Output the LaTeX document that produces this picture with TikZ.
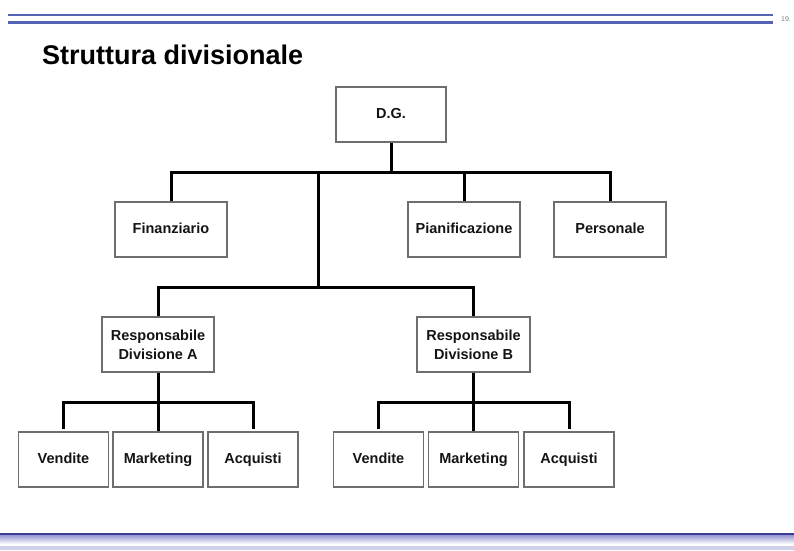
\documentclass[tikz,border=0pt]{standalone}
\usepackage{fontspec}
\setmainfont{Liberation Sans}
\usetikzlibrary{calc}
\definecolor{boxline}{HTML}{6E6E6E}
\definecolor{hdrblue}{HTML}{5463B5}
\definecolor{ftrblue}{HTML}{3C3C96}
\definecolor{ftrlight}{HTML}{9C9CD4}
\definecolor{ftrfaint}{HTML}{D0D0EA}
\definecolor{txt}{HTML}{141414}
\tikzset{
  unitbox/.style={draw=boxline, line width=1.3pt, fill=white, inner sep=0pt,
    minimum height=55pt, align=center, text=txt,
    font=\fontsize{14.5}{19}\selectfont\bfseries},
  oneline/.style={text height=10.5pt, text depth=3pt},
  widebox/.style={unitbox, minimum width=112pt},
  narrowbox/.style={unitbox, oneline, minimum width=90pt},
  conn/.style={draw=black, line width=3pt, line join=miter},
}
\begin{document}
\begin{tikzpicture}[x=1pt,y=-1pt]
\useasboundingbox (0,0) rectangle (794,550);
\fill[white] (0,0) rectangle (794,550);
% header
\draw[hdrblue, line width=2.5pt] (8,15) -- (773,15);
\draw[hdrblue, line width=2.5pt] (8,22.5) -- (773,22.5);
\node[anchor=west, inner sep=0pt, text=gray, font=\fontsize{7}{8}\selectfont] (pg) at (781,19) {19.};
% footer
\shade[top color=ftrlight, bottom color=white] (0,535.5) rectangle (794,544);
\fill[ftrfaint] (0,546) rectangle (794,550);
\draw[ftrblue, line width=2.5pt] (0,534) -- (794,534);
% title
\node[anchor=base west, inner sep=0pt, text=black, font=\fontsize{27}{31}\selectfont\bfseries] (title) at (42,64) {Struttura divisionale};
% boxes
\node[widebox, oneline, minimum width=110pt] (dg) at (391,114.5) {D.G.};
\node[widebox, oneline] (fin) at (171,229.5) {Finanziario};
\node[widebox, oneline] (pian) at (464,229.5) {Pianificazione};
\node[widebox, oneline] (pers) at (610,229.5) {Personale};
\node[widebox] (respA) at (158,344.5) {Responsabile\\Divisione A};
\node[widebox, minimum width=113pt] (respB) at (473.5,344.5) {Responsabile\\Divisione B};
\node[narrowbox] (vendA) at (63.5,459.5) {Vendite};
\node[narrowbox] (markA) at (158,459.5) {Marketing};
\node[narrowbox] (acqA) at (253,459.5) {Acquisti};
\node[narrowbox] (vendB) at (378.5,459.5) {Vendite};
\node[narrowbox] (markB) at (473.5,459.5) {Marketing};
\node[narrowbox] (acqB) at (569,459.5) {Acquisti};
% bus coordinates
\coordinate (busTop) at (391,172);
\coordinate (mid) at (318,172);
\coordinate (busMid) at (318,287);
\coordinate (busA) at (158,402);
\coordinate (busB) at (473.5,402);
% connectors
\draw[conn] (dg.south) -- (dg.south |- busTop);
\draw[conn] (fin.north) -- (fin.north |- busTop) -- (pers.north |- busTop) -- (pers.north);
\draw[conn] (pian.north |- busTop) -- (pian.north);
\draw[conn] (mid) -- (busMid);
\draw[conn] (respA.north) -- (respA.north |- busMid) -- (respB.north |- busMid) -- (respB.north);
\draw[conn] (respA.south) -- (markA.north);
\draw[conn] ([yshift=2pt]vendA.north) -- (vendA.north |- busA) -- (acqA.north |- busA) -- ([yshift=2pt]acqA.north);
\draw[conn] (respB.south) -- (markB.north);
\draw[conn] ([yshift=2pt]vendB.north) -- (vendB.north |- busB) -- (acqB.north |- busB) -- ([yshift=2pt]acqB.north);
\end{tikzpicture}
\end{document}
